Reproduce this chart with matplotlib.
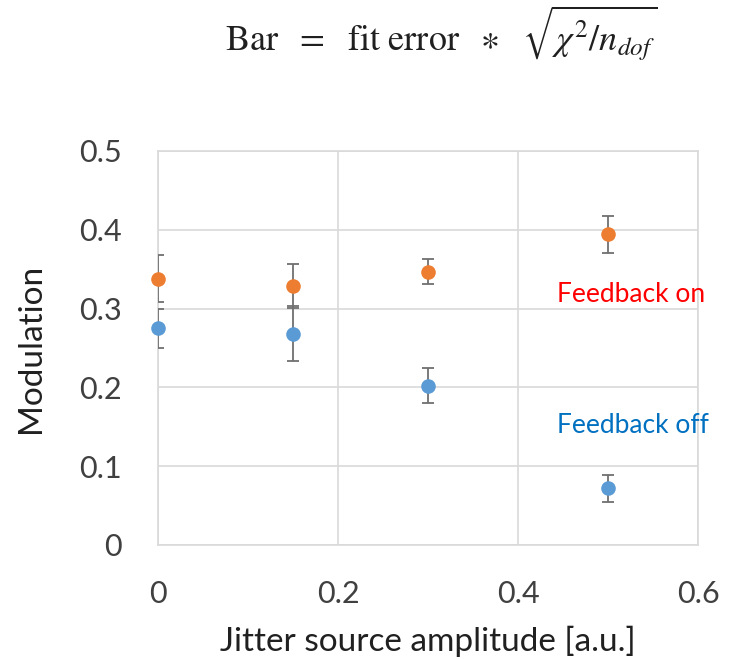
import matplotlib
matplotlib.use("Agg")
import matplotlib.pyplot as plt

plt.rcParams["font.family"] = ["Lato", "DejaVu Sans"]
plt.rcParams["mathtext.fontset"] = "stix"

amplitude = [0.0, 0.15, 0.30, 0.50]
mod_on = [0.338, 0.329, 0.347, 0.394]
err_on = [0.030, 0.028, 0.016, 0.023]
mod_off = [0.275, 0.268, 0.202, 0.072]
err_off = [0.025, 0.035, 0.022, 0.017]

x_ticks = [0, 0.2, 0.4, 0.6]
x_ticklabels = ["0", "0.2", "0.4", "0.6"]
y_ticks = [0, 0.1, 0.2, 0.3, 0.4, 0.5]
y_ticklabels = ["0", "0.1", "0.2", "0.3", "0.4", "0.5"]

ORANGE = "#ed7d31"
BLUE = "#5b9bd5"
GRID = "#d9d9d9"
ERR = "#707070"
TXT = "#404040"

fig = plt.figure(figsize=(7.38, 6.59), dpi=100)
ax = fig.add_axes([0.214, 0.173, 0.732, 0.598])

for y, e, c in [(mod_off, err_off, BLUE), (mod_on, err_on, ORANGE)]:
    ax.errorbar(amplitude, y, yerr=e, fmt="none", ecolor=ERR, elinewidth=1.3,
                capsize=4.5, capthick=1.3, zorder=3)
    ax.plot(amplitude, y, "o", color=c, markersize=10.5, markeredgewidth=0,
            zorder=4, clip_on=False)

ax.set_xlim(0, 0.6)
ax.set_ylim(0, 0.5)
ax.set_xticks(x_ticks)
ax.set_xticklabels(x_ticklabels)
ax.set_yticks(y_ticks)
ax.set_yticklabels(y_ticklabels)
ax.grid(True, color=GRID, linewidth=1.2)
ax.set_axisbelow(True)
for s in ax.spines.values():
    s.set_color(GRID)
    s.set_linewidth(1.2)
ax.tick_params(length=0, labelsize=22, labelcolor=TXT)
ax.tick_params(axis="x", pad=25)
ax.tick_params(axis="y", pad=26)

ax.set_xlabel("Jitter source amplitude [a.u.]", fontsize=24, color="#202020", labelpad=13)
ax.set_ylabel("Modulation", fontsize=24, color="#202020", labelpad=24)

ax.text(0.443, 0.318, "Feedback on", color="#ff0000", fontsize=19,
        va="center", ha="left", clip_on=False)
ax.text(0.443, 0.151, "Feedback off", color="#0070c0", fontsize=19,
        va="center", ha="left", clip_on=False)

fig.text(0.598, 0.95, r"$\mathrm{Bar}\ \ =\ \ \mathrm{fit\ error}\ \ \ast\ \ \sqrt{\chi^2/n_{dof}}$",
         fontsize=26, ha="center", va="center", color="#202020")

fig.savefig("out.png", dpi=100, facecolor="white")
